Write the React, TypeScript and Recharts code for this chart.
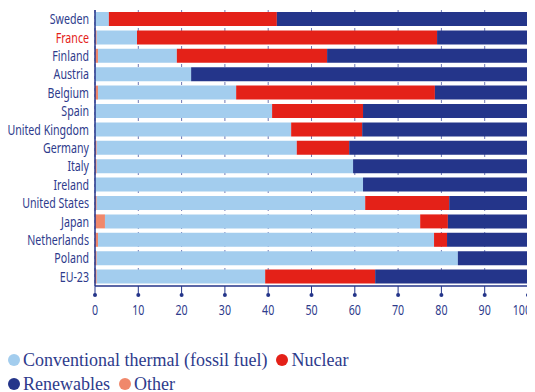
import React from 'react';
import { BarChart, Bar, XAxis, YAxis, CartesianGrid, Legend } from 'recharts';

const categories = ['Sweden', 'France', 'Finland', 'Austria', 'Belgium', 'Spain', 'United Kingdom', 'Germany', 'Italy', 'Ireland', 'United States', 'Japan', 'Netherlands', 'Poland', 'EU-23'];
const other = [0, 0.4, 0.7, 0, 0.7, 0, 0, 0.4, 0.4, 0, 0.4, 2.3, 0.7, 0.4, 0.4];
const thermal = [3.2, 9.3, 18.2, 22.2, 31.9, 40.9, 45.3, 46.2, 59.2, 61.9, 62.0, 72.8, 77.6, 83.4, 38.9];
const nuclear = [38.8, 69.3, 34.7, 0, 45.9, 21.0, 16.4, 12.1, 0, 0, 19.4, 6.4, 3.0, 0, 25.4];
const renewables = [58.0, 21.0, 46.4, 77.8, 21.5, 38.1, 38.3, 41.3, 40.4, 38.1, 18.2, 18.5, 18.7, 16.2, 35.3];
const xTicks = [0, 10, 20, 30, 40, 50, 60, 70, 80, 90, 100];
const highlighted = ['France'];

const NAVY = '#24358a';
const RED = '#e42118';
const LIGHT = '#a3cdee';
const SALMON = '#f0886b';
const TEXT = '#2e3b8c';
const SANS = "'Noto Sans', 'Open Sans', sans-serif";
const SERIF = "'Liberation Serif', 'DejaVu Serif', serif";
const SQUEEZE = 0.76;
const CHART_W = 527;

const data = categories.map((name, i) => ({
  name,
  other: other[i],
  thermal: thermal[i],
  nuclear: nuclear[i],
  renewables: renewables[i],
}));

const legendItems = [
  [
    { label: 'Conventional thermal (fossil fuel)', color: LIGHT },
    { label: 'Nuclear', color: RED },
  ],
  [
    { label: 'Renewables', color: NAVY },
    { label: 'Other', color: SALMON },
  ],
];

const XTick = (props: any) => {
  const { x, y, payload } = props;
  const last = Number(payload.value) === xTicks[xTicks.length - 1];
  const tx = last ? CHART_W - 4 : x;
  return (
    <g>
      <line x1={x} y1={y} x2={x} y2={y + 9} stroke={NAVY} strokeWidth={1} />
      <circle cx={x} cy={y + 9} r={2} fill={NAVY} />
      <g transform={`translate(${tx},${y + 24}) scale(${SQUEEZE},1)`}>
        <text x={0} y={0} textAnchor={last ? 'end' : 'middle'} dominantBaseline="central" fill={TEXT} fontSize={14} fontFamily={SANS}>
          {payload.value}
        </text>
      </g>
    </g>
  );
};

const YTick = (props: any) => {
  const { x, y, payload } = props;
  const red = highlighted.includes(payload.value);
  return (
    <g transform={`translate(${x},${y}) scale(${SQUEEZE},1)`}>
      <text x={0} y={0} textAnchor="end" dominantBaseline="central" fill={red ? RED : TEXT} fontSize={14} fontFamily={SANS}>
        {payload.value}
      </text>
    </g>
  );
};

const renderLegend = () => (
  <div style={{ height: 71, overflow: 'hidden', paddingTop: 27, boxSizing: 'border-box', fontFamily: SERIF, fontSize: 18, color: TEXT }}>
    {legendItems.map((row, ri) => (
      <div key={ri} style={{ display: 'flex', alignItems: 'center', height: 24, lineHeight: '24px', whiteSpace: 'nowrap' }}>
        {row.map((it, ii) => (
          <span key={ii} style={{ display: 'inline-flex', alignItems: 'center', marginRight: 9 }}>
            <span style={{ display: 'inline-block', width: 12, height: 12, borderRadius: 6, background: it.color, marginRight: 3 }} />
            {it.label}
          </span>
        ))}
      </div>
    ))}
  </div>
);

export default function App() {
  return (
    <BarChart
      width={CHART_W}
      height={384}
      data={data}
      layout="vertical"
      margin={{ top: 2, right: 7, left: 0, bottom: 0 }}
      barSize={14}
    >
      <CartesianGrid horizontal={false} vertical={true} stroke="#6f78b4" strokeDasharray="3 3" />
      <XAxis
        type="number"
        domain={[0, 100]}
        ticks={xTicks}
        height={35}
        tickSize={0}
        tickMargin={0}
        tickLine={false}
        axisLine={{ stroke: NAVY, strokeWidth: 1.5 }}
        tick={<XTick />}
        interval={0}
      />
      <YAxis
        type="category"
        dataKey="name"
        width={87}
        tickLine={false}
        tickSize={0}
        tickMargin={6}
        axisLine={{ stroke: NAVY, strokeWidth: 1.5 }}
        tick={<YTick />}
        interval={0}
      />
      <Legend verticalAlign="bottom" align="left" content={renderLegend} />
      <Bar dataKey="other" stackId="a" fill={SALMON} isAnimationActive={false} />
      <Bar dataKey="thermal" stackId="a" fill={LIGHT} isAnimationActive={false} />
      <Bar dataKey="nuclear" stackId="a" fill={RED} isAnimationActive={false} />
      <Bar dataKey="renewables" stackId="a" fill={NAVY} isAnimationActive={false} />
    </BarChart>
  );
}
